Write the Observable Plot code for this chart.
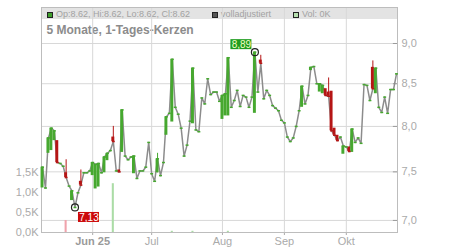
<!DOCTYPE html>
<html>
<head>
<meta charset="utf-8">
<script src="https://cdn.jsdelivr.net/npm/d3@7"></script>
<script src="https://cdn.jsdelivr.net/npm/@observablehq/plot@0.6"></script>
<style>
  html, body { margin: 0; padding: 0; background: #fff; }
  #wrap { position: relative; width: 450px; height: 250px; font-family: "Liberation Sans", Arial, sans-serif; overflow: hidden; }
  #band { position: absolute; left: 41px; top: 7px; width: 356px; height: 12px; background: #e3e3e3; }
  .sq { position: absolute; top: 11.5px; width: 4px; height: 4px; border: 1px solid #222; }
  .lg { position: absolute; top: 9.8px; font-size: 9px; line-height: 9px; color: #a2a2a2; white-space: nowrap; }
  #title { position: absolute; left: 46.5px; top: 24px; font-size: 12px; line-height: 12px; font-weight: bold; color: #8c8c8c; white-space: nowrap; }
  .layer { position: absolute; left: 0; top: 0; }
</style>
</head>
<body>
<div id="wrap">
  <div id="band"></div>
  <div class="sq" style="left:46.5px;background:#3f9f2c"></div>
  <div class="lg" id="ohlc" style="left:56px"></div>
  <div class="sq" style="left:211.5px;background:#555"></div>
  <div class="lg" style="left:221px">volladjustiert</div>
  <div class="sq" style="left:292.5px;background:#b6dfae"></div>
  <div class="lg" id="volTxt" style="left:302px"></div>
  <div id="title">5 Monate, 1-Tages-Kerzen</div>
  <div class="layer" id="priceLayer"></div>
  <div class="layer" id="volLayer"></div>
</div>
<script>
// ---- data (one entry per trading day, index 0..120) ----
const close = [
  7.55, 7.33, 7.87, 7.98, 7.95, 7.60, 7.59, 7.56, 7.44, 7.35,
  7.30, 7.13, 7.28, 7.36, 7.49, 7.49, 7.51, 7.60, 7.58, 7.59,
  7.49, 7.66, 7.70, 7.73, 7.83, 7.51, 7.50, 8.19, 7.67, 7.63,
  7.66, 7.67, 7.43, 7.51, 7.51, 7.55, 7.82, 7.48, 7.40, 7.64,
  7.46, 7.60, 8.11, 8.15, 8.80, 8.22, 8.14, 7.98, 7.67, 7.79,
  8.06, 8.69, 7.96, 7.94, 8.33, 8.26, 8.56, 8.37, 8.40, 8.40,
  8.29, 8.36, 8.38, 8.82, 8.22, 8.30, 8.42, 8.23, 8.36, 8.34,
  8.22, 8.34, 8.89, 8.40, 8.75, 8.32, 8.42, 8.36, 8.24, 8.21,
  8.18, 8.07, 8.04, 7.88, 7.83, 7.87, 8.00, 8.18, 8.47, 8.26,
  8.36, 8.70, 8.71, 8.50, 8.50, 8.48, 8.36, 8.35, 7.95, 7.90,
  7.84, 7.88, 7.78, 7.77, 7.72, 7.97, 7.82, 7.87, 7.81, 8.49,
  8.48, 8.30, 8.44, 8.69, 8.22, 8.16, 8.34, 8.15, 8.43, 8.43,
  8.62
];
const open = [
  7.33, 7.33, 7.70, 7.73, 7.84, 7.84, 7.59, 7.56, 7.49, 7.35,
  7.20, 7.13, 7.28, 7.40, 7.49, 7.49, 7.51, 7.46, 7.32, 7.34,
  7.49, 7.49, 7.62, 7.73, 7.88, 7.51, 7.52, 7.71, 7.67, 7.63,
  7.66, 7.48, 7.43, 7.51, 7.51, 7.55, 7.82, 7.48, 7.40, 7.49,
  7.46, 7.60, 7.90, 8.15, 8.05, 8.22, 8.14, 7.98, 7.67, 7.79,
  8.06, 8.03, 7.96, 7.94, 8.33, 8.26, 8.56, 8.37, 8.40, 8.40,
  8.29, 8.08, 8.12, 8.12, 8.22, 8.30, 8.42, 8.23, 8.36, 8.34,
  8.22, 8.34, 8.15, 8.40, 8.79, 8.32, 8.42, 8.36, 8.24, 8.21,
  8.18, 8.07, 8.04, 7.88, 7.83, 7.87, 8.00, 8.18, 8.22, 8.26,
  8.36, 8.66, 8.71, 8.50, 8.40, 8.38, 8.44, 8.40, 8.41, 7.98,
  7.90, 7.88, 7.69, 7.77, 7.77, 7.71, 7.82, 7.87, 7.81, 8.49,
  8.48, 8.30, 8.70, 8.38, 8.22, 8.16, 8.34, 8.15, 8.43, 8.43,
  8.62
];
// days with a visible upper wick: [day index, high]
const wickHigh = [[8, 7.63], [13, 7.52], [24, 8.00], [39, 7.70], [74, 8.85], [97, 8.57], [112, 8.78]];
// volume in thousands: day index and value
const volDay = [8, 24, 44, 51, 63];
const volK = [0.30, 1.22, 0.03, 0.03, 0.03];
// axis ticks
const priceTicks = [7.0, 7.5, 8.0, 8.5, 9.0];
const volTicks = [0, 0.5, 1.0, 1.5];
const monthDay = [17, 37, 61, 82, 103];
const monthLabel = ["Jun 25", "Jul", "Aug", "Sep", "Okt"];
const header = {op: 8.62, hi: 8.62, lo: 8.62, cl: 8.62, vol: "0K"};

// ---- build ----
const GREEN = "#46a82f", RED = "#b51515", LGREEN = "#abdca6", LRED = "#f0a3ac";
const days = close.map((c, i) => ({i, o: open[i], c}));
const wicks = wickHigh.map(([i, h]) => ({i, hi: h, lo: Math.min(open[i], close[i]), col: close[i] >= open[i] ? GREEN : RED}));
const bodies = days.filter(d => d.o !== d.c);
const vols = volDay.map((i, k) => ({i, v: volK[k], col: (i === 0 || close[i] >= close[i - 1]) ? LGREEN : LRED}));
const maxD = days.reduce((a, b) => b.c > a.c ? b : a);
const minD = days.reduce((a, b) => b.c < a.c ? b : a);
const comma = (v, n) => v.toFixed(n).replace(".", ",");

document.getElementById("ohlc").textContent = `Op:${header.op}, Hi:${header.hi}, Lo:${header.lo}, Cl:${header.cl}`;
document.getElementById("volTxt").textContent = `Vol: ${header.vol}`;

const xDomain = [-0.35, 120.35];
const common = {
  width: 450, height: 250,
  marginLeft: 41, marginRight: 53, marginTop: 7, marginBottom: 18,
  style: {background: "transparent", fontFamily: "'Liberation Sans', Arial, sans-serif", fontSize: "11px", color: "#aaaaaa", overflow: "visible"}
};

const pricePlot = Plot.plot({
  ...common,
  x: {domain: xDomain, ticks: monthDay, tickFormat: d => monthLabel[monthDay.indexOf(d)], tickSize: 3, tickPadding: 2, label: null},
  y: {type: "log", domain: [6.881, 9.472], axis: null},
  color: {type: "identity"},
  marks: [
    Plot.ruleY(priceTicks, {stroke: "#d8d8d8"}),
    Plot.ruleX(monthDay, {stroke: "#d8d8d8"}),
    Plot.ruleY(priceTicks, {x1: xDomain[1] - 1.4, x2: xDomain[1], stroke: "#9a9a9a"}),
    Plot.text(priceTicks, {x: xDomain[1], y: d => d, text: d => comma(d, 1), textAnchor: "start", dx: 4, fill: "#aaaaaa", fontSize: 11}),
    Plot.frame({stroke: "#bdbdbd"}),
    Plot.line(days, {x: "i", y: "c", stroke: "#8c8c8c", strokeWidth: 1.5}),
    Plot.ruleX(wicks, {x: "i", y1: "lo", y2: "hi", stroke: "col", strokeWidth: 1}),
    Plot.rect(bodies, {x1: d => d.i - 0.5, x2: d => d.i + 0.5, y1: "o", y2: "c", fill: d => d.c >= d.o ? GREEN : RED}),
    Plot.link(days, {x1: d => d.i - 0.5, x2: d => d.i + 0.5, y1: "c", y2: "c", stroke: d => d.c >= d.o ? GREEN : RED, strokeWidth: 1.5}),
    Plot.dot([maxD, minD], {x: "i", y: "c", r: 3.5, stroke: "#222", fill: "none", strokeWidth: 1.2}),
    Plot.rect([maxD], {x1: "i", x2: "i", y1: "c", y2: "c", insetLeft: -10.5, insetRight: -10.5, insetTop: -5, insetBottom: -5, dx: -13.5, dy: -7.5, fill: "#1f9c1f"}),
    Plot.text([maxD], {x: "i", y: "c", text: d => comma(d.c, 2), dx: -13.5, dy: -7.5, fill: "#f2ffc4", fontSize: 10}),
    Plot.rect([minD], {x1: "i", x2: "i", y1: "c", y2: "c", insetLeft: -10.5, insetRight: -10.5, insetTop: -5, insetBottom: -5, dx: 14, dy: 10, fill: "#cc0a0a"}),
    Plot.text([minD], {x: "i", y: "c", text: d => comma(d.c, 2), dx: 14, dy: 10, fill: "#ffffff", fontSize: 10})
  ]
});
d3.select(pricePlot).selectAll("text").filter(function () { return this.textContent === "Jun 25"; })
  .attr("font-weight", "bold").attr("fill", "#9a9a9a");
document.getElementById("priceLayer").appendChild(pricePlot);

const volPlot = Plot.plot({
  ...common,
  x: {domain: xDomain, axis: null},
  y: {domain: [0, 5.625], ticks: volTicks, tickFormat: d => comma(d, 1) + "K", tickSize: 0, tickPadding: 3, label: null},
  color: {type: "identity"},
  marks: [
    Plot.rect(vols, {x1: d => d.i - 0.35, x2: d => d.i + 0.35, y1: 0, y2: "v", fill: "col"})
  ]
});
document.getElementById("volLayer").appendChild(volPlot);
</script>
</body>
</html>
